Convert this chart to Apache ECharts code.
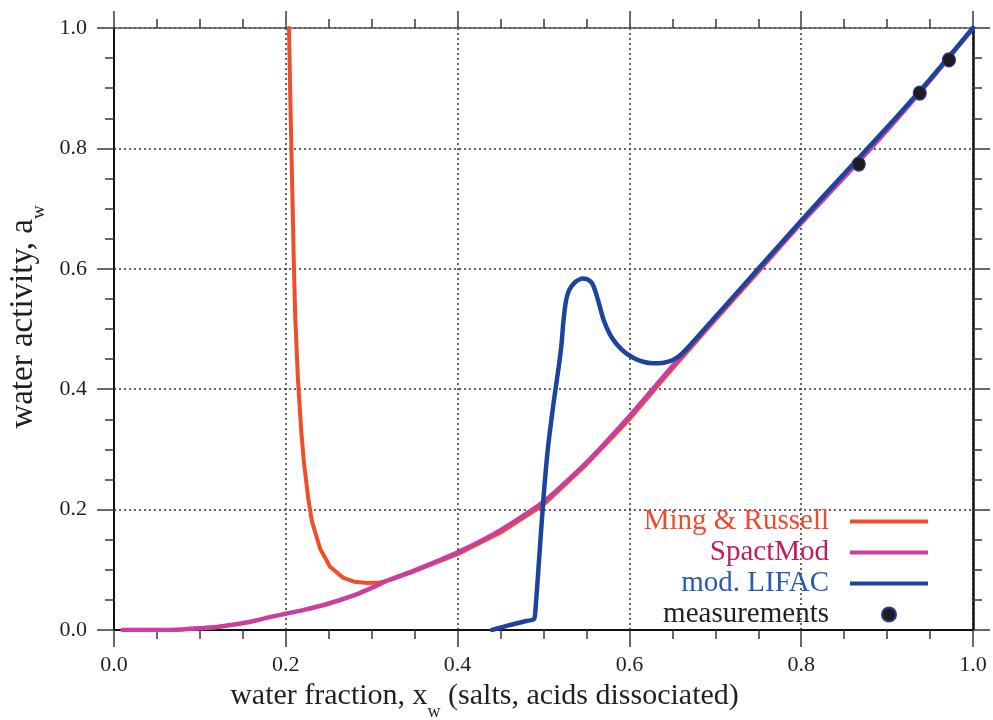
<!DOCTYPE html>
<html>
<head>
<meta charset="utf-8">
<script src="https://cdn.jsdelivr.net/npm/echarts@6/dist/echarts.min.js"></script>
<style>
html,body{margin:0;padding:0;background:#fff;overflow:hidden;}
#chart{width:993px;height:720px;}
</style>
</head>
<body>
<div id="chart"></div>
<script>
// ---- data ----
const seriesNames = ['Ming & Russell', 'SpactMod', 'mod. LIFAC', 'measurements'];

const mingRussellX = [0.2037,0.2050,0.2065,0.2080,0.2095,0.2110,0.2140,0.2180,0.2210,0.2260,0.2305,0.2400,0.2515,0.2666,0.2800,0.2950,0.3100,0.3250,0.3500,0.40,0.45,0.50,0.55,0.60,0.65,0.70,0.75,0.80,0.85,0.90,0.95,1.00];
const mingRussellY = [1.000,0.900,0.800,0.700,0.600,0.520,0.420,0.330,0.280,0.220,0.180,0.135,0.105,0.087,0.080,0.078,0.079,0.085,0.098,0.126,0.162,0.208,0.275,0.350,0.434,0.515,0.595,0.676,0.755,0.833,0.913,1.000];

const spactModX = [0.01,0.05,0.08,0.10,0.12,0.14,0.16,0.18,0.20,0.22,0.25,0.28,0.30,0.32,0.35,0.40,0.45,0.50,0.55,0.60,0.65,0.70,0.75,0.80,0.85,0.90,0.95,1.00];
const spactModY = [0.000,0.000,0.001,0.003,0.005,0.009,0.014,0.021,0.027,0.033,0.044,0.058,0.070,0.083,0.099,0.129,0.166,0.213,0.278,0.355,0.438,0.518,0.598,0.676,0.752,0.830,0.913,1.000];

const lifacX = [0.440,0.460,0.480,0.489,0.491,0.495,0.500,0.505,0.512,0.518,0.521,0.523,0.526,0.530,0.537,0.545,0.552,0.557,0.561,0.565,0.570,0.577,0.585,0.595,0.605,0.615,0.627,0.640,0.650,0.658,0.670,0.700,0.750,0.800,0.850,0.900,0.950,1.000];
const lifacY = [0.000,0.008,0.015,0.018,0.040,0.120,0.220,0.300,0.380,0.440,0.475,0.510,0.545,0.565,0.578,0.584,0.582,0.575,0.560,0.540,0.515,0.492,0.475,0.461,0.452,0.446,0.443,0.444,0.448,0.455,0.472,0.520,0.600,0.680,0.758,0.835,0.915,1.000];

const measX = [0.867, 0.938, 0.972];
const measY = [0.774, 0.892, 0.947];

const xTickLabels = ['0.0','0.2','0.4','0.6','0.8','1.0'];
const yTickLabels = ['0.0','0.2','0.4','0.6','0.8','1.0'];

// ---- chart ----
const zip = (xs, ys) => xs.map((x, i) => [x, ys[i]]);
const FONT = '"Liberation Serif", "DejaVu Serif", serif';
const TXT = '#231f20';
const colors = { mr: '#f04e2a', sm: '#c93f9b', lf: '#1d439e' };

const tickFmt = labels => v => { const i = Math.round(v / 0.2); return labels[i] !== undefined ? labels[i] : ''; };

const mkRich = (fs, sfs, pad) => ({
  n: { fontFamily: FONT, fontSize: fs, color: TXT, lineHeight: fs + 2, verticalAlign: 'top' },
  sub: { fontFamily: FONT, fontSize: sfs, color: TXT, lineHeight: sfs, verticalAlign: 'top', padding: [pad, 0, 0, 0] }
});

const baseAxis = {
  type: 'value', min: 0, max: 1, interval: 0.2,
  axisTick: { show: true, inside: false, length: 17, lineStyle: { color: '#3a3a3a', width: 1.5 } },
  minorTick: { show: true, splitNumber: 4, length: 9, lineStyle: { color: '#3a3a3a', width: 1.5 } },
  minorSplitLine: { show: false }
};

const option = {
  animation: false,
  backgroundColor: '#fff',
  grid: { left: 114, right: 20, top: 28, bottom: 90, containLabel: false, outerBoundsMode: 'none' },
  xAxis: [
    Object.assign({}, baseAxis, {
      position: 'bottom',
      name: '{n|water fraction, x}{sub|w}{n| (salts, acids dissociated)}',
      nameLocation: 'middle', nameGap: 42,
      nameTextStyle: { rich: mkRich(30, 18, 22), padding: [0, 118, 0, 0] },
      axisLine: { show: true, onZero: false, lineStyle: { color: '#111', width: 2 } },
      axisLabel: { show: true, margin: 24, fontFamily: FONT, fontSize: 22, color: TXT, formatter: tickFmt(xTickLabels) },
      splitLine: { show: true, lineStyle: { color: '#333', width: 1.5, type: [2, 3] } }
    }),
    Object.assign({}, baseAxis, {
      position: 'top',
      axisLine: { show: true, onZero: false, lineStyle: { color: '#555', width: 1.5 } },
      axisLabel: { show: false },
      splitLine: { show: false }
    })
  ],
  yAxis: [
    Object.assign({}, baseAxis, {
      position: 'left',
      name: '{n|water activity, a}{sub|w}',
      nameLocation: 'middle', nameGap: 47,
      nameTextStyle: { rich: mkRich(33, 19, 23), padding: [0, 0, 0, 24] },
      axisLine: { show: true, onZero: false, lineStyle: { color: '#111', width: 2 } },
      axisLabel: { show: true, margin: 27, fontFamily: FONT, fontSize: 22, color: TXT, formatter: tickFmt(yTickLabels) },
      splitLine: { show: true, lineStyle: { color: '#333', width: 1.5, type: [2, 3] } }
    }),
    Object.assign({}, baseAxis, {
      position: 'right',
      axisLine: { show: true, onZero: false, lineStyle: { color: '#111', width: 2.5 } },
      axisLabel: { show: false },
      splitLine: { show: false }
    })
  ],
  legend: {
    orient: 'vertical', right: 65, top: 507, padding: 0,
    align: 'right', itemWidth: 78, itemHeight: 14, itemGap: 2,
    symbolKeepAspect: true,
    selectedMode: false,
    textStyle: { fontFamily: FONT, fontSize: 29, padding: [0, 16, 0, 0] },
    data: [
      { name: seriesNames[0], icon: 'path://M0 0H78V4H0Z', textStyle: { color: '#f04a2c' } },
      { name: seriesNames[1], icon: 'path://M0 0H78V4H0Z', textStyle: { color: '#c01c5e' } },
      { name: seriesNames[2], icon: 'path://M0 0H78V4H0Z', textStyle: { color: '#2a5bb0' } },
      { name: seriesNames[3], icon: 'circle', textStyle: { color: TXT } }
    ]
  },
  series: [
    { name: seriesNames[0], type: 'line', data: zip(mingRussellX, mingRussellY), showSymbol: false, symbol: 'none',
      color: colors.mr, lineStyle: { color: colors.mr, width: 4, cap: 'round', join: 'round' }, z: 2 },
    { name: seriesNames[1], type: 'line', data: zip(spactModX, spactModY), showSymbol: false, symbol: 'none', smooth: 0.2,
      color: colors.sm, lineStyle: { color: colors.sm, width: 4.5, cap: 'round', join: 'round' }, z: 3 },
    { name: seriesNames[2], type: 'line', data: zip(lifacX, lifacY), showSymbol: false, symbol: 'none', smooth: 0.2,
      color: colors.lf, lineStyle: { color: colors.lf, width: 4.5, cap: 'round', join: 'round' }, z: 4 },
    { name: seriesNames[3], type: 'scatter', data: zip(measX, measY), symbol: 'circle', symbolSize: [13, 14],
      itemStyle: { color: '#1e1c22', borderColor: '#2b3990', borderWidth: 1.2, opacity: 1 }, z: 5 }
  ]
};

const chart = echarts.init(document.getElementById('chart'), null, { renderer: 'canvas', width: 993, height: 720 });
chart.setOption(option);
</script>
</body>
</html>
